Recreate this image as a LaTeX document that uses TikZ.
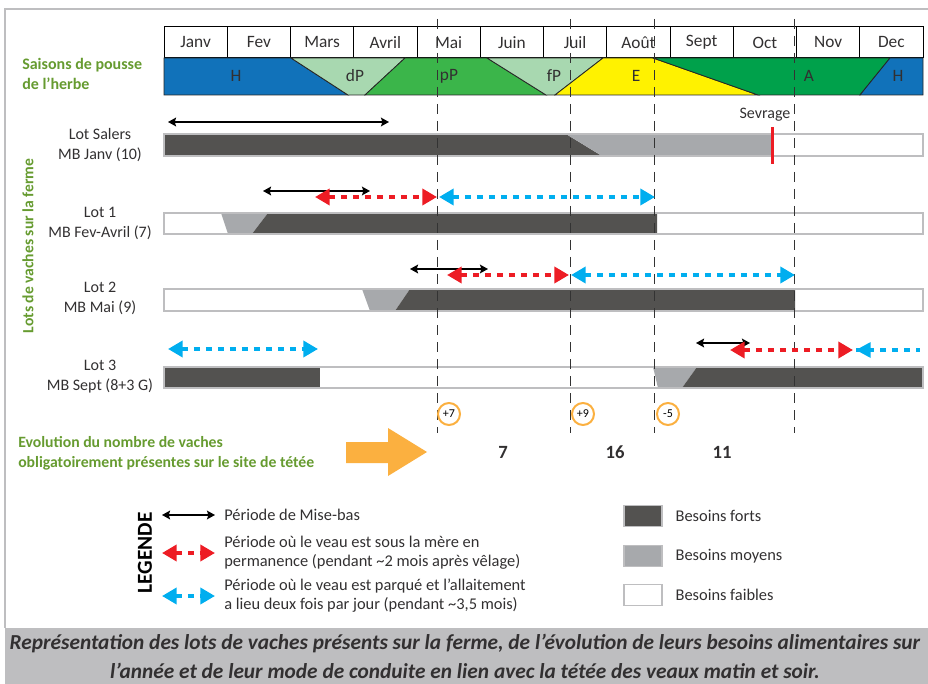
\documentclass[tikz,border=0pt]{standalone}
\usepackage{fontspec}
\setmainfont{Carlito}
\usetikzlibrary{arrows.meta,positioning}

\definecolor{herbeH}{RGB}{17,114,186}
\definecolor{herbeDP}{RGB}{168,216,176}
\definecolor{herbePP}{RGB}{59,181,74}
\definecolor{herbeE}{RGB}{255,242,0}
\definecolor{herbeA}{RGB}{0,161,75}
\definecolor{fort}{RGB}{83,82,80}
\definecolor{moyen}{RGB}{167,169,172}
\definecolor{cadre}{RGB}{190,190,192}
\definecolor{rouge}{RGB}{237,28,36}
\definecolor{bleu}{RGB}{0,174,239}
\definecolor{orangeF}{RGB}{251,176,64}
\definecolor{vertT}{RGB}{102,155,48}
\definecolor{texte}{RGB}{50,48,49}

\begin{document}
\begin{tikzpicture}[x=0.75pt,y=-0.75pt,
mois/.style={
% The shape:
rectangle,
% The size:
minimum width=47.44pt, minimum height=23.25pt, inner sep=0pt,
% The border:
draw=black, line width=0.75pt,
% Font
font=\fontsize{13}{15}\selectfont, text=texte
},
saison/.style={font=\fontsize{13}{15}\selectfont, text=texte},
bande/.style={draw=black!85, line width=0.6pt},
barre/.style={draw=cadre, line width=1pt},
lot/.style={align=center, font=\fontsize{12}{15}\selectfont, text=texte},
titre/.style={inner sep=0pt, font=\fontsize{12}{14.5}\selectfont\bfseries, text=vertT},
repere/.style={draw=black!80, line width=0.75pt, dash pattern=on 7.5pt off 5.25pt},
misebas/.style={draw=black, line width=1.5pt, {Stealth[length=6pt,width=6.5pt,inset=1pt]}-{Stealth[length=6pt,width=6.5pt,inset=1pt]}},
sousmere/.style={draw=rouge, line width=3pt, dash pattern=on 4.5pt off 4.5pt,
  {Triangle[length=11pt,width=12pt]}-{Triangle[length=11pt,width=12pt]}},
parque/.style={draw=bleu, line width=3pt, dash pattern=on 4.5pt off 4.5pt,
  {Triangle[length=11pt,width=12pt]}-{Triangle[length=11pt,width=12pt]}},
ecart/.style={circle, draw=orangeF, line width=1.5pt, minimum size=16.5pt, inner sep=0pt,
  font=\fontsize{9}{10}\selectfont, text=black},
effectif/.style={font=\fontsize{14}{16}\selectfont\bfseries, text=texte},
legtxt/.style={align=left, inner sep=0pt, font=\fontsize{12.3}{14.2}\selectfont, text=texte},
boite/.style={rectangle, minimum width=28.5pt, minimum height=15.75pt, inner sep=0pt, draw=cadre, line width=1pt}
]
\useasboundingbox (0,0) rectangle (928,684);
% frame
\draw[cadre, line width=1.2pt] (928,9) -- (5,9) -- (5,628);

% months
\foreach \m [count=\i from 0] in {Janv,Fev,Mars,Avril,Mai,Juin,Juil,Août,Sept,Oct,Nov,Dec}
  \node[mois] (m\i) at ({164+63.25*\i+31.625},42.5) {\m};

% grass seasons
\path[fill=herbeH, bande] (164,58) -- (291,58) -- (348,95) -- (164,95) -- cycle;
\path[fill=herbeDP, bande] (291,58) -- (405,58) -- (365,95) -- (348,95) -- cycle;
\path[fill=herbePP, bande] (405,58) -- (487,58) -- (546,95) -- (365,95) -- cycle;
\path[fill=herbeDP, bande] (487,58) -- (603,58) -- (555,95) -- (546,95) -- cycle;
\path[fill=herbeE, bande] (603,58) -- (653,58) -- (758,95) -- (555,95) -- cycle;
\path[fill=herbeA, bande] (653,58) -- (890,58) -- (860,95) -- (758,95) -- cycle;
\path[fill=herbeH, bande] (890,58) -- (923,58) -- (923,95) -- (860,95) -- cycle;
\node[saison] (sH) at (236,76) {H};
\node[saison] (sdP) at (355,76) {dP};
\node[saison] (spP) at (449,76) {pP};
\node[saison] (sfP) at (554,76) {fP};
\node[saison] (sE) at (636,76) {E};
\node[saison] (sA) at (809,76) {A};
\node[saison] (sH2) at (898,76) {H};
\node[titre, anchor=west, align=left] (herbe) at (22,74) {Saisons de pousse\\de l’herbe};

% lots
\node[titre, rotate=90, font=\fontsize{11.7}{13}\selectfont\bfseries] (lots) at (28,246) {Lots de vaches sur la ferme};
\node[lot] (ls) at (100,145) {Lot Salers\\MB Janv (10)};
\node[lot] (l1) at (100,223) {Lot 1\\MB Fev-Avril (7)};
\node[lot] (l2) at (100,298) {Lot 2\\MB Mai (9)};
\node[lot] (l3) at (100,377) {Lot 3\\MB Sept (8+3 G)};

% Lot Salers
\fill[fort] (164,134) -- (566,134) -- (602,156) -- (164,156) -- cycle;
\fill[moyen] (566,134) -- (772,134) -- (772,156) -- (602,156) -- cycle;
\draw[barre] (164,134) rectangle (923,156);
% Lot 1
\fill[moyen] (221,213) -- (268,213) -- (252,234) -- (228,234) -- cycle;
\fill[fort] (268,213) -- (657,213) -- (657,234) -- (252,234) -- cycle;
\draw[barre] (164,213) rectangle (923,234);
% Lot 2
\fill[moyen] (362,289) -- (410,289) -- (395,311) -- (370,311) -- cycle;
\fill[fort] (410,289) -- (795,289) -- (795,311) -- (395,311) -- cycle;
\draw[barre] (164,289) rectangle (923,311);
% Lot 3
\fill[fort] (164,367) rectangle (320,388);
\fill[moyen] (653,367) -- (697,367) -- (682,388) -- (658,388) -- cycle;
\fill[fort] (697,367) -- (923,367) -- (923,388) -- (682,388) -- cycle;
\draw[barre] (164,367) rectangle (923,388);

% guides
\foreach \x [count=\i] in {437,570,654,794} {
  \coordinate (g\i t) at (\x,19);
  \coordinate (g\i b) at (\x,433);
  \draw[repere] (g\i t) -- (g\i b);
}

% weaning
\node[lot, anchor=base] (sevrage) at (765,119) {Sevrage};
\coordinate (sv1) at (772,127);
\coordinate (sv2) at (772,164);
\draw[rouge, line width=2.25pt] (sv1) -- (sv2);

% periods
\coordinate (ls1) at (168,122); \coordinate (ls2) at (389,122);
\draw[misebas] (ls1) -- (ls2);
\coordinate (a11) at (263,191); \coordinate (a12) at (370,191);
\coordinate (r11) at (315,197); \coordinate (r12) at (437,197);
\coordinate (b11) at (439,197); \coordinate (b12) at (655,197);
\draw[misebas] (a11) -- (a12);
\draw[sousmere] (r11) -- (r12);
\draw[parque] (b11) -- (b12);
\coordinate (a21) at (410,269); \coordinate (a22) at (488,269);
\coordinate (r21) at (447,275); \coordinate (r22) at (569,275);
\coordinate (b21) at (571,275); \coordinate (b22) at (795,275);
\draw[misebas] (a21) -- (a22);
\draw[sousmere] (r21) -- (r22);
\draw[parque] (b21) -- (b22);
\coordinate (b31) at (168,349); \coordinate (b32) at (318,349);
\coordinate (a31) at (696,343); \coordinate (a32) at (750,343);
\coordinate (r31) at (730,350); \coordinate (r32) at (853,350);
\coordinate (b33) at (856,350); \coordinate (b34) at (920,350);
\draw[parque] (b31) -- (b32);
\draw[misebas] (a31) -- (a32);
\draw[sousmere] (r31) -- (r32);
\draw[parque, -] (b33) -- (b34);
\fill[bleu] (b33) -- ++(14.7,-8) -- ++(0,16) -- cycle;

% evolution
\node[titre, anchor=west, align=left, font=\fontsize{11.8}{15}\selectfont\bfseries] (evol) at (18,453) {Evolution du nombre de vaches\\obligatoirement présentes sur le site de tétée};
\fill[orangeF] (346,442) -- (388,442) -- (388,428) -- (427,452) -- (388,476) -- (388,463) -- (346,463) -- cycle;
\node[ecart] (c1) at (449,414) {+7};
\node[ecart] (c2) at (583,414) {+9};
\node[ecart] (c3) at (668,414) {-5};
\node[effectif] (n1) at (503,452) {7};
\node[effectif] (n2) at (615,452) {16};
\node[effectif] (n3) at (722,452) {11};

% legend
\node[rotate=90, font=\fontsize{16}{18}\selectfont\bfseries, text=black] (leg) at (145,553) {LEGENDE};
\coordinate (la1) at (162,515); \coordinate (la2) at (215,515);
\coordinate (lr1) at (162,553); \coordinate (lr2) at (215,553);
\coordinate (lb1) at (162,596); \coordinate (lb2) at (215,596);
\draw[misebas] (la1) -- (la2);
\draw[sousmere] (lr1) -- (lr2);
\draw[parque] (lb1) -- (lb2);
\node[legtxt, right=6.75pt of la2] (t1) {Période de Mise-bas};
\node[legtxt, right=6.75pt of lr2] (t2) {Période où le veau est sous la mère en\\permanence (pendant \textasciitilde 2 mois après vêlage)};
\node[legtxt, right=6.75pt of lb2] (t3) {Période où le veau est parqué et l’allaitement\\a lieu deux fois par jour (pendant \textasciitilde 3,5 mois)};
\node[boite, fill=fort] (bf) at (643,516) {};
\node[boite, fill=moyen] (bm) at (643,556) {};
\node[boite, fill=white] (bw) at (643,595) {};
\node[legtxt, right=9.5pt of bf, font=\fontsize{12.3}{14}\selectfont] (tf) {Besoins forts};
\node[legtxt, right=9.5pt of bm, font=\fontsize{12.3}{14}\selectfont] (tm) {Besoins moyens};
\node[legtxt, right=9.5pt of bw, font=\fontsize{12.3}{14}\selectfont] (tw) {Besoins faibles};

% caption
\fill[cadre] (5,628) rectangle (928,684);
\node[font=\fontsize{16}{18}\selectfont\bfseries\itshape, text=texte] (cap1) at (465,643) {Représentation des lots de vaches présents sur la ferme, de l’évolution de leurs besoins alimentaires sur};
\node[font=\fontsize{16}{18}\selectfont\bfseries\itshape, text=texte] (cap2) at (465,671) {l’année et de leur mode de conduite en lien avec la tétée des veaux matin et soir.};
\end{tikzpicture}
\end{document}
